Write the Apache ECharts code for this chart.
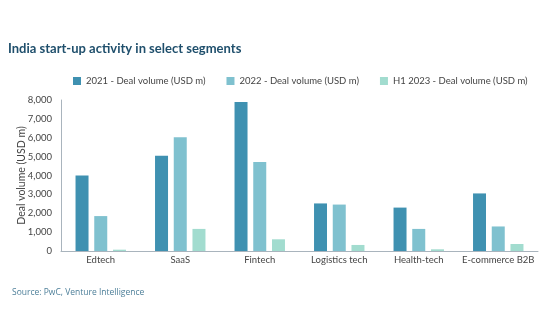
<!DOCTYPE html>
<html><head><meta charset="utf-8">
<script src="https://cdn.jsdelivr.net/npm/echarts@6/dist/echarts.min.js"></script>
<style>html,body{margin:0;padding:0;background:#fff}#c{width:540px;height:334px}</style>
</head><body><div id="c"></div>
<script>
const categories = ['Edtech','SaaS','Fintech','Logistics tech','Health-tech','E-commerce B2B'];
const seriesNames = ['2021 - Deal volume (USD m)','2022 - Deal volume (USD m)','H1 2023 - Deal volume (USD m)'];
const v2021 = [4000, 5040, 7900, 2520, 2300, 3050];
const v2022 = [1850, 6030, 4720, 2460, 1170, 1300];
const v2023 = [70, 1170, 620, 320, 90, 370];
const colors = ['#3f91b1','#7fc1cf','#a2dccf'];
const chart = echarts.init(document.getElementById('c'));
const mk = (name, data, i) => ({name, type:'bar', data, barWidth:13, barGap:'44%', itemStyle:{color:colors[i]}});
chart.setOption({
  animation:false,
  title:[{text:'India start-up activity in select segments',left:3,top:37,textStyle:{fontFamily:'Lato',fontWeight:'bold',fontSize:13,color:'#1f4f6c'}},
         {text:'Source: PwC, Venture Intelligence',left:7,top:283,textStyle:{fontFamily:'Open Sans',fontWeight:'normal',fontSize:8.5,color:'#4d7f99'}}],
  legend:{top:71,left:68,itemWidth:8,itemHeight:8,itemGap:21,icon:'rect',
    textStyle:{fontFamily:'Lato',fontSize:9.5,color:'#444'},data:seriesNames},
  grid:{left:61,right:2,top:100,bottom:83,containLabel:false},
  xAxis:{type:'category',data:categories,axisTick:{show:false},
    axisLine:{lineStyle:{color:'#a9b4bd',width:1}},
    axisLabel:{interval:0,fontFamily:'Lato',fontSize:9.5,color:'#444',margin:4}},
  yAxis:{type:'value',min:0,max:8000,interval:1000,splitLine:{show:false},
    axisLine:{show:true,lineStyle:{color:'#a9b4bd',width:1}},axisTick:{show:false},
    axisLabel:{fontFamily:'Lato',fontSize:9.5,color:'#444',margin:9,formatter:v=>v.toLocaleString('en-US')},
    name:'Deal volume (USD m)',nameLocation:'middle',nameGap:34,nameRotate:90,nameMoveOverlap:false,
    nameTextStyle:{fontFamily:'Lato',fontSize:10.5,color:'#444'}},
  series:[mk(seriesNames[0],v2021,0),mk(seriesNames[1],v2022,1),mk(seriesNames[2],v2023,2)]
});
</script></body></html>
